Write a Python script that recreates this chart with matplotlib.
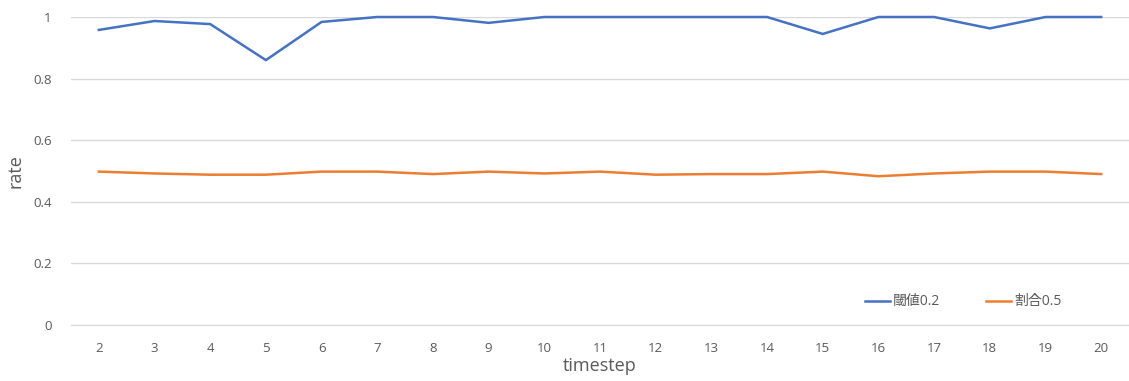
import matplotlib
matplotlib.use('Agg')
import matplotlib.pyplot as plt

timesteps = list(range(2, 21))
threshold_02 = [0.958, 0.987, 0.977, 0.860, 0.984, 1.0, 1.0, 0.981, 1.0, 1.0,
                1.0, 1.0, 1.0, 0.945, 1.0, 1.0, 0.963, 1.0, 1.0]
ratio_05 = [0.498, 0.492, 0.488, 0.488, 0.498, 0.498, 0.490, 0.498, 0.492, 0.498,
            0.488, 0.490, 0.490, 0.498, 0.483, 0.492, 0.498, 0.498, 0.490]
series_names = ['閾値0.2', '割合0.5']
y_ticks = [0, 0.2, 0.4, 0.6, 0.8, 1]

plt.rcParams['font.family'] = ['Open Sans', 'Noto Sans CJK JP', 'DejaVu Sans']

fig = plt.figure(figsize=(11.29, 3.81), dpi=100)
ax = fig.add_axes([71 / 1129, 1 - 325 / 381, 1 - 71 / 1129, (325 - 17) / 381])

x = list(range(len(timesteps)))
ax.plot(x, threshold_02, color='#4472C4', lw=1.8, label=series_names[0], clip_on=False)
ax.plot(x, ratio_05, color='#ED7D31', lw=1.8, label=series_names[1], clip_on=False)

ax.set_xlim(-0.5, len(timesteps) - 0.5)
ax.set_ylim(0, 1)
ax.set_xticks(x)
ax.set_xticklabels([str(t) for t in timesteps])
ax.set_yticks(y_ticks)
ax.set_yticklabels(['0', '0.2', '0.4', '0.6', '0.8', '1'])
ax.tick_params(length=0, labelsize=9.5, colors='#595959', pad=12)
ax.tick_params(axis='y', pad=14)

ax.grid(axis='y', color='#D9D9D9', lw=1)
ax.set_axisbelow(True)
for s in ['top', 'right', 'left']:
    ax.spines[s].set_visible(False)
ax.spines['bottom'].set_color('#D9D9D9')

ax.set_xlabel('timestep', fontsize=13, color='#595959', labelpad=2)
ax.set_ylabel('rate', fontsize=13, color='#595959', labelpad=6)

leg = ax.legend(loc='lower right', bbox_to_anchor=(0.948, 0.01), ncol=2, frameon=False,
                fontsize=10, handlelength=1.8, handletextpad=0.2, columnspacing=3.3)
for t in leg.get_texts():
    t.set_color('#595959')

fig.savefig('out.png', dpi=100)
